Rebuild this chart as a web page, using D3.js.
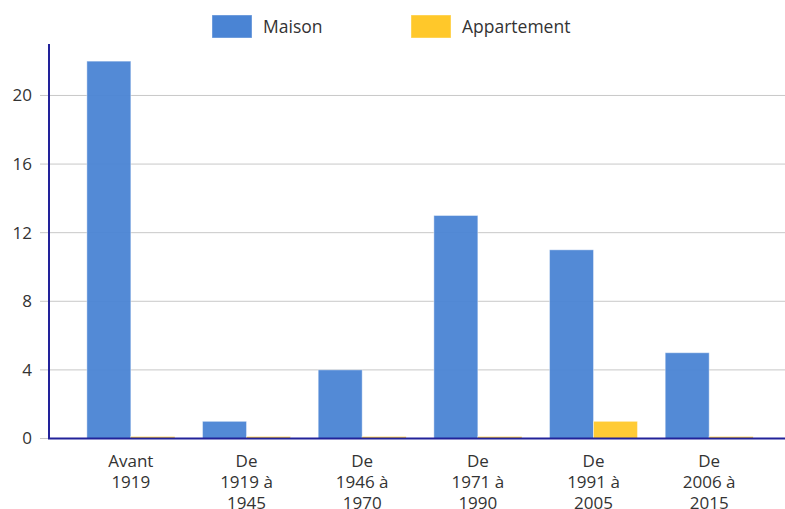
<!DOCTYPE html>
<html>
<head>
<meta charset="utf-8">
<script src="https://d3js.org/d3.v7.min.js"></script>
<style>
  body { margin: 0; background: #fff; }
  text { font-family: "Open Sans", sans-serif; fill: #333; }
</style>
</head>
<body>
<script>
// data
var categories = ["Avant\n1919", "De\n1919 à\n1945", "De\n1946 à\n1970", "De\n1971 à\n1990", "De\n1991 à\n2005", "De\n2006 à\n2015"];
var seriesNames = ["Maison", "Appartement"];
var maison = [22, 1, 4, 13, 11, 5];
var appartement = [0, 0, 0, 0, 1, 0];
var yTicks = [0, 4, 8, 12, 16, 20];
var colors = ["#4a84d4", "#ffc82a"];

var W = 785, H = 509;
var svg = d3.select("body").append("svg").attr("width", W).attr("height", H);

var x = d3.scaleBand().domain(categories).range([73, 767]).paddingInner(0.24).paddingOuter(0.12);
var x1 = d3.scaleBand().domain(seriesNames).range([0, x.bandwidth()]);
var y = d3.scaleLinear().domain([0, 23]).range([438.5, 44]);

// gridlines
svg.append("g")
  .selectAll("line")
  .data(yTicks)
  .enter().append("line")
  .attr("x1", 40).attr("x2", W)
  .attr("y1", function(d) { return y(d); })
  .attr("y2", function(d) { return y(d); })
  .attr("stroke", "#c8c8c8")
  .attr("stroke-width", 1);

// y labels
svg.append("g")
  .selectAll("text")
  .data(yTicks)
  .enter().append("text")
  .attr("x", 32)
  .attr("y", function(d) { return y(d); })
  .attr("dy", "0.35em")
  .attr("text-anchor", "end")
  .style("font-size", "17px")
  .text(function(d) { return d; });

// bars
var rows = categories.map(function(c, i) { return { cat: c, vals: [maison[i], appartement[i]] }; });
var groups = svg.append("g").selectAll("g")
  .data(rows)
  .enter().append("g")
  .attr("transform", function(d) { return "translate(" + x(d.cat) + ",0)"; });

groups.selectAll("rect")
  .data(function(d) { return d.vals.map(function(v, j) { return { name: seriesNames[j], v: v, j: j }; }); })
  .enter().append("rect")
  .attr("x", function(d) { return x1(d.name); })
  .attr("width", x1.bandwidth())
  .attr("y", function(d) { return d.v > 0 ? y(d.v) : y(0) - 2; })
  .attr("height", function(d) { return d.v > 0 ? y(0) - y(d.v) : 2; })
  .attr("fill", function(d) { return colors[d.j]; })
  .attr("fill-opacity", 0.95)
  .attr("stroke", "#ffffff")
  .attr("stroke-opacity", 0.4)
  .attr("stroke-width", 1);

// axes lines
svg.append("line")
  .attr("x1", 49).attr("x2", 49)
  .attr("y1", 44).attr("y2", y(0))
  .attr("stroke", "#22229a").attr("stroke-width", 2);
svg.append("line")
  .attr("x1", 48).attr("x2", W)
  .attr("y1", y(0)).attr("y2", y(0))
  .attr("stroke", "#22229a").attr("stroke-width", 2);

// x labels
var xl = svg.append("g").selectAll("text")
  .data(categories)
  .enter().append("text")
  .attr("text-anchor", "middle")
  .attr("x", function(d) { return x(d) + x.bandwidth() / 2; })
  .attr("y", 467)
  .style("font-size", "17px");
xl.each(function(d) {
  var t = d3.select(this);
  d.split("\n").forEach(function(line, i) {
    t.append("tspan")
      .attr("x", x(d) + x.bandwidth() / 2)
      .attr("dy", i === 0 ? 0 : 21)
      .text(line);
  });
});

// legend
var legendX = [212, 411];
var legend = svg.append("g").selectAll("g")
  .data(seriesNames)
  .enter().append("g")
  .attr("transform", function(d, i) { return "translate(" + legendX[i] + ",15)"; });
legend.append("rect")
  .attr("width", 40).attr("height", 23)
  .attr("fill", function(d, i) { return colors[i]; })
  .attr("stroke", "#ffffff").attr("stroke-opacity", 0.4);
legend.append("text")
  .attr("x", 51).attr("y", 12)
  .attr("dy", "0.35em")
  .style("font-size", "17.5px")
  .text(function(d) { return d; });
</script>
</body>
</html>
